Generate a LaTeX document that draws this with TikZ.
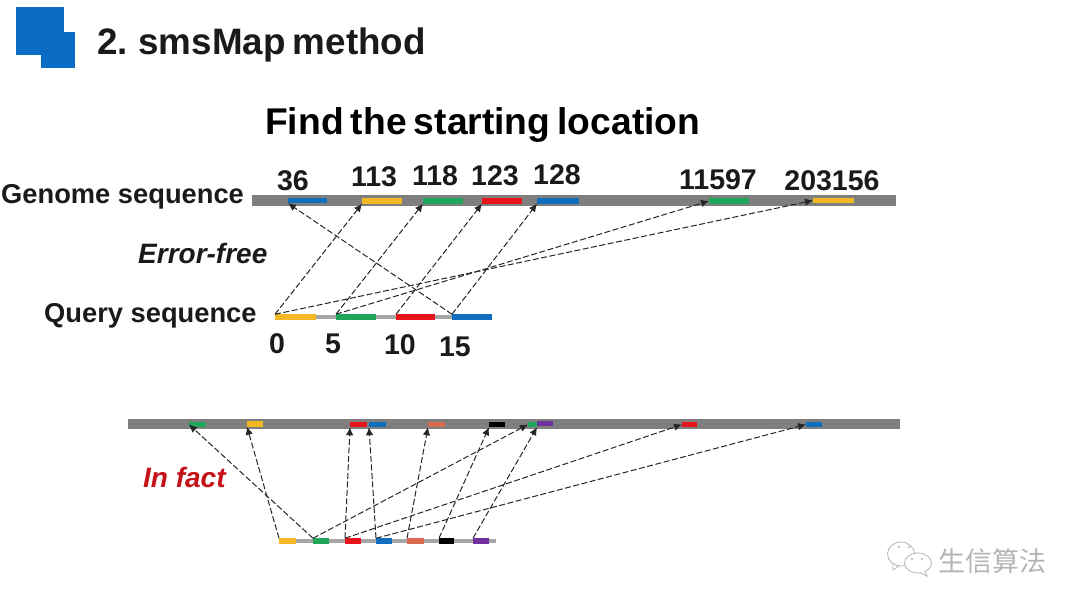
\documentclass[tikz,border=0pt]{standalone}
\usepackage{fontspec}
\setmainfont{Liberation Sans}
\newfontfamily\titlefont[WordSpace=0.7]{Liberation Sans}
\newfontfamily\cjkfont{Noto Sans CJK SC}
\usetikzlibrary{arrows.meta}
\definecolor{barD}{HTML}{7F7F7F}
\definecolor{barL}{HTML}{A6A6A6}
\definecolor{cBlue}{HTML}{0F6FBE}
\definecolor{cYel}{HTML}{F2B824}
\definecolor{cGrn}{HTML}{1FA65A}
\definecolor{cRed}{HTML}{E8141C}
\definecolor{cOra}{HTML}{D9694F}
\definecolor{cPur}{HTML}{7030A0}
\definecolor{logoBlue}{HTML}{0A6CC4}
\definecolor{txt}{HTML}{1A1A1A}
\definecolor{wm}{HTML}{B4B4B4}
\tikzset{
  seg/.style={draw=none,inner sep=0pt,outer sep=0pt,minimum height=#1},
  seg/.default=5.5pt,
  lab/.style={font=\bfseries\fontsize{27.3}{27.3}\selectfont,text=txt,inner sep=0pt},
  num/.style={font=\bfseries\fontsize{28.5}{28.5}\selectfont,text=txt,inner sep=0pt},
  conn/.style={draw=black!85,line width=1pt,dash pattern=on 6pt off 2.5pt,-{Latex[length=8pt,width=7.5pt]}},
  bubble/.style={draw=wm,line width=0.8pt,fill=white},
}
% \sg{name}{colour}{x0}{x1}{y}
\newcommand{\sg}[5]{\node[seg,fill=#2,minimum width=#4pt-#3pt,anchor=west] (#1) at (#3,#5) {};}
\begin{document}
\begin{tikzpicture}[x=1pt,y=-1pt]
\useasboundingbox (0,0) rectangle (1080,608);
% logo
\fill[logoBlue] (16,7) rectangle (64,55);
\fill[logoBlue] (41,32) rectangle (75,68);
% titles
\node[anchor=west,inner sep=0pt,text=txt,font=\titlefont\bfseries\fontsize{36.8}{36.8}\selectfont] (title) at (97,45) {2. smsMap method};
\node[anchor=west,inner sep=0pt,text=black,font=\titlefont\bfseries\fontsize{37.2}{37.2}\selectfont] (sub) at (265,124.5) {Find the starting location};
% labels
\node[lab,anchor=west] (lg) at (1,197) {Genome sequence};
\node[lab,anchor=west,font=\bfseries\itshape\fontsize{28}{28}\selectfont] (lerr) at (138,253) {Error-free};
\node[lab,anchor=west] (lq) at (44,316) {Query sequence};
\node[anchor=west,inner sep=0pt,text=cRed!85!black,font=\bfseries\itshape\fontsize{28}{28}\selectfont] (lfact) at (143,477) {In fact};
% numbers
\node[num] (n36) at (293,180.5) {36};
\node[num] (n113) at (374,176.5) {113};
\node[num] (n118) at (435,175.5) {118};
\node[num] (n123) at (495,175.5) {123};
\node[num] (n128) at (557,174.5) {128};
\node[num] (n11597) at (718,179.5) {11597};
\node[num] (n203156) at (832,180.5) {203156};
\node[num] (q0l) at (277,343.5) {0};
\node[num] (q5l) at (333,343.5) {5};
\node[num] (q10l) at (400,344.5) {10};
\node[num] (q15l) at (455,346.5) {15};
% top genome
\node[seg=11pt,fill=barD,minimum width=644pt,anchor=west] (gbar) at (252,200) {};
\sg{gA}{cBlue}{288}{327}{200.5}
\sg{gB}{cYel}{362}{402}{201}
\sg{gC}{cGrn}{423}{463}{201}
\sg{gD}{cRed}{482}{522}{201}
\sg{gE}{cBlue}{537}{579}{201}
\sg{gF}{cGrn}{709}{749}{201}
\sg{gG}{cYel}{813}{854}{200.5}
% top query
\node[seg=4.5pt,fill=barL,minimum width=217pt,anchor=west] (qbar) at (275,317) {};
\sg{qA}{cYel}{275}{316}{317}
\sg{qB}{cGrn}{336}{376}{317}
\sg{qC}{cRed}{396}{435}{317}
\sg{qD}{cBlue}{452}{492}{317}
% top connectors
\draw[conn] (qA.north west) -- (gB.south west);
\draw[conn] (qA.north west) -- (gG.west);
\draw[conn] (qB.north west) -- (gC.south west);
\draw[conn] (qB.north west) -- (gF.west);
\draw[conn] (qC.north west) -- (gD.south west);
\draw[conn] (qD.north west) -- (gA.south west);
\draw[conn] (qD.north west) -- (gE.south west);
% bottom genome
\node[seg=10pt,fill=barD,minimum width=772pt,anchor=west] (hbar) at (128,424) {};
\sg{hA}{cGrn}{189}{206}{424.5}
\sg{hB}{cYel}{247}{263}{424}
\sg{hC}{cRed}{350}{367}{424.5}
\sg{hD}{cBlue}{369}{386}{424.5}
\sg{hE}{cOra}{428}{445}{424.5}
\sg{hF}{black}{489}{505}{424.5}
\sg{hG}{cGrn}{528}{537}{424.5}
\sg{hH}{cPur}{537}{553}{423.5}
\sg{hI}{cRed}{682}{697}{424.5}
\sg{hJ}{cBlue}{806}{822}{424.5}
% bottom query
\node[seg=4.5pt,fill=barL,minimum width=217pt,anchor=west] (rbar) at (279,541) {};
\sg{rA}{cYel}{279}{296}{541}
\sg{rB}{cGrn}{313}{329}{541}
\sg{rC}{cRed}{345}{361}{541}
\sg{rD}{cBlue}{376}{392}{541}
\sg{rE}{cOra}{407}{424}{541}
\sg{rF}{black}{439}{454}{541}
\sg{rG}{cPur}{473}{489}{541}
% bottom connectors
\draw[conn] (rA.north west) -- (hB.south west);
\draw[conn] (rB.north west) -- (hA.west);
\draw[conn] (rB.north west) -- (hG.west);
\draw[conn] (rC.north west) -- (hC.south west);
\draw[conn] (rC.north west) -- (hI.west);
\draw[conn] (rD.north west) -- (hD.south west);
\draw[conn] (rD.north west) -- (hJ.west);
\draw[conn] (rE.north west) -- (hE.south west);
\draw[conn] (rF.north west) -- (hF.south west);
\draw[conn] (rG.north west) -- (hG.south east);
% watermark
\draw[bubble] (901,554) ellipse [x radius=13.5,y radius=12];
\draw[wm,line width=0.8pt] (893,563) -- (893,570) -- (899,566);
\draw[bubble] (918,563) ellipse [x radius=13.5,y radius=10];
\draw[wm,line width=0.8pt,fill=white] (925,571) -- (927,576) -- (920,572.6);
\fill[wm] (899,547) circle (1.1pt) (909,547) circle (1.1pt) (912,559) circle (1.1pt) (922,559) circle (1.1pt);
\node[anchor=west,inner sep=0pt,text=wm,font=\cjkfont\fontsize{27}{27}\selectfont] (wmt) at (938,561) {生信算法};
\end{tikzpicture}
\end{document}
